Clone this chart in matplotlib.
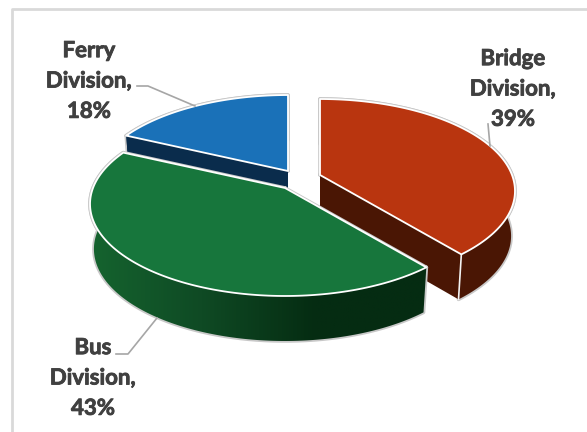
import numpy as np
import matplotlib
matplotlib.use('Agg')
import matplotlib.pyplot as plt
import matplotlib.patheffects as pe
from matplotlib.patches import Polygon
from matplotlib.colors import LinearSegmentedColormap

divisions = ['Bridge Division', 'Bus Division', 'Ferry Division']
shares = [39, 43, 18]

top_colors = ['#b9350f', '#17763c', '#1a71b8']
side_colors = ['#4a1604', '#0f4a24', '#0a2c4c']
centers = [(320, 175), (285, 188), (288, 171)]

# perspective of the pie plane, in pixels
RX = 192
RY = 89.2
K = 0.174
DEPTH = 45
SHRINK = 0.98  # lower rim is further from the eye

plt.rcParams['font.family'] = ['Lato', 'DejaVu Sans']

fig = plt.figure(figsize=(5.87, 4.32), dpi=100)
ax = fig.add_axes([0, 0, 1, 1])


def project(center, ang):
    u = np.sin(np.radians(ang))
    v = -np.cos(np.radians(ang))
    d = 1 - K * v
    return np.column_stack([center[0] + RX * u / d, center[1] + RY * v / d])


def lower(pts, c):
    out = pts.copy()
    out[:, 0] = c[0] + (pts[:, 0] - c[0]) * SHRINK
    out[:, 1] = pts[:, 1] + DEPTH
    return out


def edge_line(pts, z):
    ax.plot(pts[:, 0], pts[:, 1], color='#c8c8c8', lw=2.6, zorder=z, solid_capstyle='round')


def fill(pts, color, z):
    ax.add_patch(Polygon(pts, closed=True, fc=color, ec='none', zorder=z))


# chart frame, only the top and left sides are in view
ax.plot([12, 12, 587], [432, 8.5, 8.5], color='#d9d9d9', lw=2, zorder=1)

edges = np.cumsum([0] + shares) * 3.6
# ferry first, then bridge, then bus which sits in front
for i, z in [(2, 10), (0, 20), (1, 30)]:
    ang = np.linspace(edges[i], edges[i + 1], 150)
    c = np.array(centers[i], dtype=float)
    rim = project(c, ang)
    low = lower(rim, c)
    wall = np.vstack([rim, low[::-1]])
    top = np.vstack([c, rim])

    edge_line(np.vstack([wall, wall[:1]]), z)
    edge_line(np.vstack([top, top[:1]]), z)

    if i == 1:
        # bus wall gets darker from left to right
        cmap = LinearSegmentedColormap.from_list('bus', ['#15642f', '#0f4a24', '#052c12', '#052c12'])
        grad = np.linspace(0, 1, 256).reshape(1, -1)
        im = ax.imshow(grad, cmap=cmap, extent=[88, 430, 360, 140], aspect='auto', zorder=z + 1)
        im.set_clip_path(Polygon(wall, closed=True, transform=ax.transData))
    else:
        fill(wall, side_colors[i], z + 1)

    # cut faces running from the apex out to the rim
    base = lower(c.reshape(1, 2), c)[0]
    if i == 0:
        face = np.vstack([c, rim[-1], low[-1], base])
        fill(face, side_colors[i], z + 2)
        ax.plot([rim[-1][0], low[-1][0]], [rim[-1][1], low[-1][1]], color='#f2f2f2', lw=1.2, zorder=z + 3)
    if i == 2:
        face = np.vstack([c, rim[0], low[0], base])
        fill(face, side_colors[i], z + 2)
        face = np.vstack([c, rim[-1], low[-1], base])
        fill(face, side_colors[i], z + 2)

    ax.add_patch(Polygon(top, closed=True, fc=top_colors[i], ec='white', lw=1.3, joinstyle='round', zorder=z + 4))

# leader lines
leader = dict(color='#a6a6a6', lw=1.2, zorder=40)
ax.plot([137, 148, 195], [86, 86, 106], **leader)
ax.plot([488, 490], [124, 146], **leader)
ax.plot([116, 128, 157], [354, 354, 318], **leader)

label_pos = [(513, 89), (93, 378), (89, 81)]
for name, val, (x, y) in zip(divisions, shares, label_pos):
    first, second = name.split(' ')
    t = ax.text(x, y, f'{first}\n{second},\n{val}%', ha='center', va='center', fontsize=16,
                fontweight='bold', color='#404040', linespacing=1.55, zorder=50)
    # the bold face comes out light at this size, thicken it a little
    t.set_path_effects([pe.withStroke(linewidth=0.6, foreground='#404040')])

ax.set_xlim(0, 587)
ax.set_ylim(432, 0)
ax.axis('off')

fig.savefig('out.png', dpi=100, facecolor='white')
